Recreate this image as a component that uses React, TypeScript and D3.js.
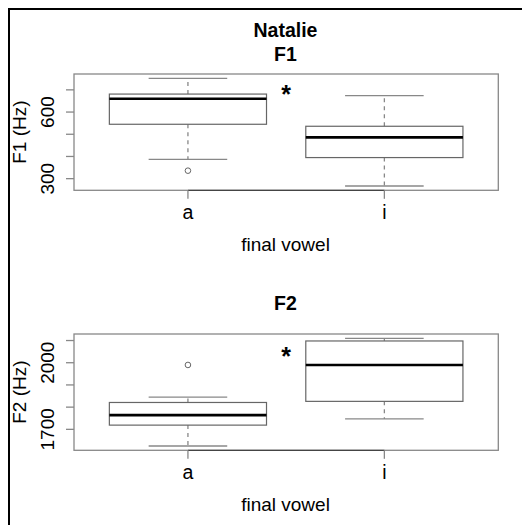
import React from "react";
import * as d3 from "d3";

const speaker = "Natalie";
const categories = ["a", "i"];
const xAxisTitle = "final vowel";

// five-number summaries [lowerWhisker, q1, median, q3, upperWhisker]
const f1Stats = [
  [387, 545, 660, 681, 752],
  [267, 395, 486, 536, 674],
];
const f1Outliers = [[336], []];
const f1Ticks = [300, 400, 500, 600, 700];
const f1TickLabels = ["300", "", "", "600", ""];
const f1Star = 700;

const f2Stats = [
  [1625, 1719, 1764, 1821, 1845],
  [1747, 1826, 1990, 2098, 2110],
];
const f2Outliers = [[1990], []];
const f2Ticks = [1700, 1800, 1900, 2000, 2100];
const f2TickLabels = ["1700", "", "", "2000", ""];
const f2Star = 2050;

const FONT = "'Liberation Sans', Arial, Helvetica, sans-serif";

type PanelProps = {
  top: number;
  titles: string[];
  yTitle: string;
  stats: number[][];
  outliers: number[][];
  ticks: number[];
  tickLabels: string[];
  star: number;
};

function Panel({ top, titles, yTitle, stats, outliers, ticks, tickLabels, star }: PanelProps) {
  const left = 74;
  const right = 498.3;
  const height = 116.3;
  const bottom = top + height;
  const x = d3.scaleLinear().domain([0.42, 2.58]).range([left, right]);
  const all = stats.flat().concat(outliers.flat());
  const [mn, mx] = d3.extent(all) as [number, number];
  const pad = (mx - mn) * 0.04;
  const y = d3.scaleLinear().domain([mn - pad, mx + pad]).range([bottom, top]);
  const bw = 0.4;
  const cw = 0.2;
  const titleBase = titles.length === 2 ? [top - 37.5, top - 13.5] : [top - 24];
  return (
    <g>
      {titles.map((t, i) => (
        <text key={t} x={285.5} y={titleBase[i]} textAnchor="middle" fontWeight="bold" fontSize={19.5} fontFamily={FONT} fill="#000">
          {t}
        </text>
      ))}
      {stats.map((s, i) => {
        const cx = x(i + 1);
        return (
          <g key={i}>
            <line x1={cx} x2={cx} y1={y(s[3])} y2={y(s[4])} stroke="#888" strokeWidth={1.3} strokeDasharray="4,4" />
            <line x1={cx} x2={cx} y1={y(s[1])} y2={y(s[0])} stroke="#888" strokeWidth={1.3} strokeDasharray="4,4" />
            <line x1={x(i + 1 - cw)} x2={x(i + 1 + cw)} y1={y(s[4])} y2={y(s[4])} stroke="#888" strokeWidth={1.3} />
            <line x1={x(i + 1 - cw)} x2={x(i + 1 + cw)} y1={y(s[0])} y2={y(s[0])} stroke="#888" strokeWidth={1.3} />
            <rect x={x(i + 1 - bw)} y={y(s[3])} width={x(i + 1 + bw) - x(i + 1 - bw)} height={y(s[1]) - y(s[3])} fill="#fff" stroke="#666" strokeWidth={1.2} />
            <line x1={x(i + 1 - bw)} x2={x(i + 1 + bw)} y1={y(s[2])} y2={y(s[2])} stroke="#000" strokeWidth={2.6} />
            {outliers[i].map((o, j) => (
              <circle key={j} cx={cx} cy={y(o)} r={2.8} fill="none" stroke="#666" strokeWidth={1} />
            ))}
          </g>
        );
      })}
      <text x={x(1.5)} y={y(star) + 13} textAnchor="middle" fontSize={25} fontWeight="bold" fontFamily={FONT} fill="#000">*</text>
      <rect x={left} y={top} width={right - left} height={height} fill="none" stroke="#888" strokeWidth={1.3} />
      <line x1={x(1)} x2={x(2)} y1={bottom} y2={bottom} stroke="#444" strokeWidth={1.2} />
      {categories.map((c, i) => (
        <g key={c}>
          <line x1={x(i + 1)} x2={x(i + 1)} y1={bottom} y2={bottom + 8.5} stroke="#888" strokeWidth={1.3} />
          <text x={x(i + 1)} y={bottom + 28.7} textAnchor="middle" fontSize={19.5} fontFamily={FONT} fill="#000">{c}</text>
        </g>
      ))}
      <text x={285.5} y={bottom + 60.4} textAnchor="middle" fontSize={19} fontFamily={FONT} fill="#000">{xAxisTitle}</text>
      {ticks.map((t, i) => (
        <g key={t}>
          <line x1={left - 8} x2={left} y1={y(t)} y2={y(t)} stroke="#888" strokeWidth={1.3} />
          {tickLabels[i] && (
            <text transform={`translate(53.5,${y(t)}) rotate(-90)`} textAnchor="middle" fontSize={19} fontFamily={FONT} fill="#000">
              {tickLabels[i]}
            </text>
          )}
        </g>
      ))}
      <text transform={`translate(25.5,${(top + bottom) / 2}) rotate(-90)`} textAnchor="middle" fontSize={19} fontFamily={FONT} fill="#000">
        {yTitle}
      </text>
    </g>
  );
}

export default function App() {
  return (
    <svg width={522} height={525} style={{ position: "absolute", left: 0, top: 0, background: "#fff" }}>
      <rect x={0} y={0} width={522} height={525} fill="#fff" />
      <Panel top={74} titles={[speaker, "F1"]} yTitle="F1 (Hz)" stats={f1Stats} outliers={f1Outliers} ticks={f1Ticks} tickLabels={f1TickLabels} star={f1Star} />
      <Panel top={334} titles={["F2"]} yTitle="F2 (Hz)" stats={f2Stats} outliers={f2Outliers} ticks={f2Ticks} tickLabels={f2TickLabels} star={f2Star} />
      <line x1={8} x2={522} y1={9} y2={9} stroke="#000" strokeWidth={2} />
      <line x1={9} x2={9} y1={8} y2={525} stroke="#000" strokeWidth={2} />
    </svg>
  );
}
